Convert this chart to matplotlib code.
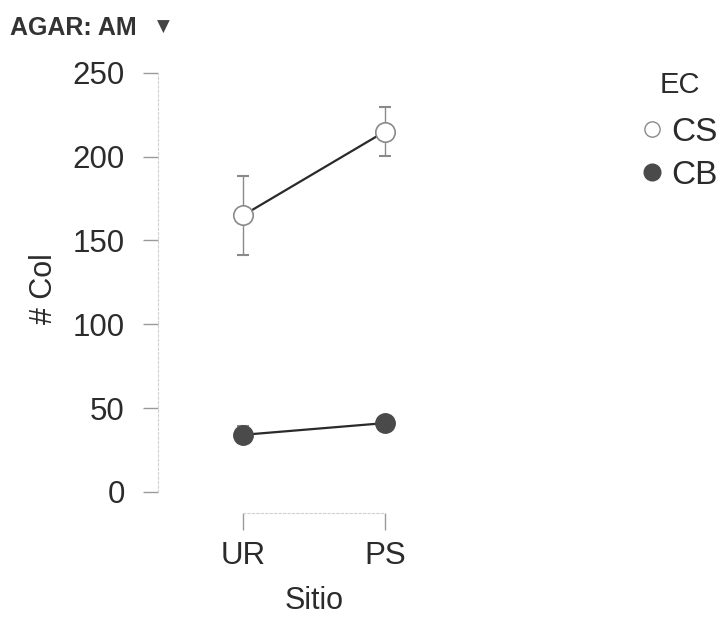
import matplotlib.pyplot as plt
from matplotlib.lines import Line2D
import numpy as np

# Datos
sitios = ["UR", "PS"]
cs_media = [165, 215]
cs_error = [23.5, 14.5]
cb_media = [34, 41]
cb_error = [5, 3]
yticks = [0, 50, 100, 150, 200, 250]

plt.rcParams['font.family'] = ['Liberation Sans', 'DejaVu Sans']
texto = '#2b2b2b'

fig = plt.figure(figsize=(7.25, 6.33), dpi=100)
ax = fig.add_axes([0.218, 0.19, 0.43, 0.708])

x = np.arange(len(sitios))

ax.errorbar(x, cs_media, yerr=cs_error, fmt='none', ecolor='#8a8a8a',
            elinewidth=1.0, capsize=4.5, capthick=1.5, zorder=2)
ax.errorbar(x, cb_media, yerr=cb_error, fmt='none', ecolor='#8a8a8a',
            elinewidth=1.0, capsize=4.5, capthick=1.5, zorder=2)
ax.plot(x, cs_media, color='#2a2a2a', lw=1.6, zorder=3)
ax.plot(x, cb_media, color='#2a2a2a', lw=1.6, zorder=3)
ax.plot(x, cs_media, 'o', ms=14, mfc='white', mec='#8a8a8a', mew=1.2, zorder=4)
ax.plot(x, cb_media, 'o', ms=14, mfc='#4a4a4a', mec='#4a4a4a', mew=1.0, zorder=4)

ax.set_xlim(-0.6, 1.6)
ax.set_ylim(-12.5, 255)
ax.set_xticks(x)
ax.set_xticklabels(sitios)
ax.set_yticks(yticks)

for s in ['top', 'right']:
    ax.spines[s].set_visible(False)
ax.spines['left'].set_bounds(0, 250)
ax.spines['bottom'].set_bounds(0, 1)
for s in ['left', 'bottom']:
    ax.spines[s].set_color('#d0d0d0')
    ax.spines[s].set_linestyle((0, (2, 2)))
    ax.spines[s].set_linewidth(0.8)

ax.tick_params(axis='y', length=11, width=1, color='#9a9a9a', pad=13,
               labelsize=22.5, labelcolor=texto)
ax.tick_params(axis='x', length=12, width=1, color='#9a9a9a', pad=8,
               labelsize=22.5, labelcolor=texto)

ax.set_ylabel("# Col", fontsize=22, color=texto, labelpad=10)
ax.set_xlabel("Sitio", fontsize=22, color=texto, labelpad=11)

# Titulo del filtro
fig.text(0.014, 0.955, "AGAR: AM", fontsize=18, fontweight='bold',
         color='#333333', va='center', ha='left')
fig.text(0.217, 0.957, "\u25bc", fontsize=12, color='#444444',
         va='center', ha='left', family=['DejaVu Sans'])

# Leyenda
handles = [
    Line2D([], [], ls='none', marker='o', ms=11, mfc='white', mec='#8a8a8a', mew=1.0),
    Line2D([], [], ls='none', marker='o', ms=12, mfc='#4a4a4a', mec='#4a4a4a'),
]
leg = fig.legend(handles, ["CS", "CB"], title="EC", loc='upper left',
                 bbox_to_anchor=(0.885, 0.888), frameon=False, fontsize=24,
                 title_fontsize=21, handlelength=0.6, handletextpad=0.3,
                 labelspacing=0.35, borderaxespad=0, borderpad=0)
leg._legend_box.sep = 13
for t in leg.get_texts():
    t.set_color(texto)
leg.get_title().set_color(texto)

fig.savefig("out.png", dpi=100)
